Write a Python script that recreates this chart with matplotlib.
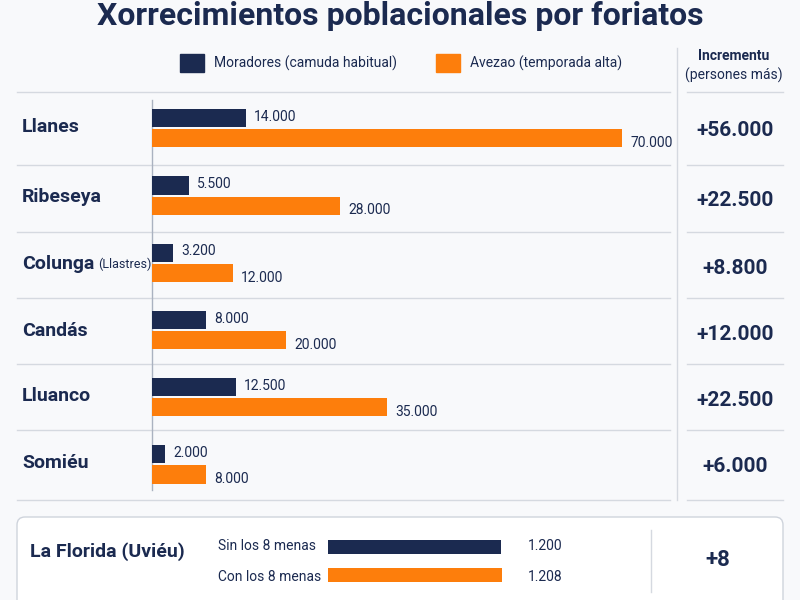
import matplotlib.pyplot as plt
from matplotlib.patches import FancyBboxPatch

plt.rcParams['font.family'] = ['Roboto', 'DejaVu Sans']

places = ['Llanes', 'Ribeseya', 'Colunga', 'Candás', 'Lluanco', 'Somiéu']
place_suffix = ['', '', '(Llastres)', '', '', '']
residents = [14000, 5500, 3200, 8000, 12500, 2000]
peak = [70000, 28000, 12000, 20000, 35000, 8000]
extra_labels = ['Sin los 8 menas', 'Con los 8 menas']
extra_values = [1200, 1208]

navy = '#1b2a50'
orange = '#fd7e0c'
grid = '#d5d9e0'

def fmt(v):
    return f'{v:,}'.replace(',', '.')

W, H = 800, 600
fig = plt.figure(figsize=(8, 6), dpi=100, facecolor='#f8f9fb')
bg = fig.add_axes([0, 0, 1, 1])
bg.set_xlim(0, W)
bg.set_ylim(H, 0)
bg.axis('off')

def fr(x0, y0, x1, y1):
    return [x0 / W, 1 - y1 / H, (x1 - x0) / W, (y1 - y0) / H]

bg.text(400, 16, 'Xorrecimientos poblacionales por foriatos', ha='center', va='center',
        fontsize=23, fontweight='bold', color=navy)

# legend
bg.add_patch(plt.Rectangle((180, 54), 24, 18, color=navy))
bg.text(214, 63, 'Moradores (camuda habitual)', va='center', fontsize=10, color=navy)
bg.add_patch(plt.Rectangle((436, 54), 24, 18, color=orange))
bg.text(470, 63, 'Avezao (temporada alta)', va='center', fontsize=10, color=navy)
bg.text(734, 56, 'Incrementu', ha='center', va='center', fontsize=10, fontweight='bold', color=navy)
bg.text(734, 75, '(persones más)', ha='center', va='center', fontsize=10, color=navy)

# separators
row_y = [127, 197, 264, 331, 396, 463]
for y in [92, 165, 232, 298, 364, 430, 500]:
    bg.plot([17, 670], [y, y], color=grid, lw=1)
    bg.plot([687, 783], [y, y], color=grid, lw=1)
bg.plot([677, 677], [48, 500], color=grid, lw=1)
bg.plot([152, 152], [100, 490], color='#aab2c0', lw=1)

for i, name in enumerate(places):
    y = row_y[i]
    t = bg.text(22, y, name, va='center', fontsize=14, fontweight='bold', color=navy)
    if place_suffix[i]:
        bg.annotate(place_suffix[i], xy=(1, 0.5), xycoords=t, xytext=(3, 0),
                    textcoords='offset points', va='center', fontsize=9, color=navy)
    bg.text(735, y + 4, '+' + fmt(peak[i] - residents[i]), ha='center', va='center',
            fontsize=15, fontweight='bold', color=navy)

# bars
ax = fig.add_axes(fr(152, 92, 672, 500))
ax.set_facecolor('none')
ax.axis('off')
pos = list(range(len(places)))
ax.set_ylim(5.55, -0.52)
ax.set_xlim(0, 70000 * 520 / 470)
ax.barh([p - 0.13 for p in pos], residents, height=0.27, color=navy)
ax.barh([p + 0.17 for p in pos], peak, height=0.27, color=orange)
for p, r, k in zip(pos, residents, peak):
    ax.text(r + 1200, p - 0.15, fmt(r), va='center', fontsize=10, color=navy)
    ax.text(k + 1200, p + 0.24, fmt(k), va='center', fontsize=10, color=navy)

# bottom box
bg.add_patch(FancyBboxPatch((17, 517), 766, 100, boxstyle='round,pad=0,rounding_size=8',
                            facecolor='white', edgecolor='#cfd4dc', lw=1))
bg.text(30, 552, 'La Florida (Uviéu)', va='center', fontsize=14, fontweight='bold', color=navy)
bg.plot([651, 651], [530, 592], color=grid, lw=1)
bg.text(718, 560, '+' + fmt(extra_values[1] - extra_values[0]), ha='center', va='center',
        fontsize=16, fontweight='bold', color=navy)

bx = fig.add_axes(fr(328, 530, 502, 592))
bx.set_facecolor('none')
bx.axis('off')
bx.set_xlim(0, 1208)
bx.set_ylim(1.6, -0.6)
bx.barh([0, 1], extra_values, height=0.52, color=[navy, orange])
for p, (lab, v) in enumerate(zip(extra_labels, extra_values)):
    bg.text(218, 546 + p * 31, lab, va='center', fontsize=10, color=navy)
    bg.text(528, 546 + p * 31, fmt(v), va='center', fontsize=10, color=navy)

fig.savefig('out.png', dpi=100, facecolor=fig.get_facecolor())
